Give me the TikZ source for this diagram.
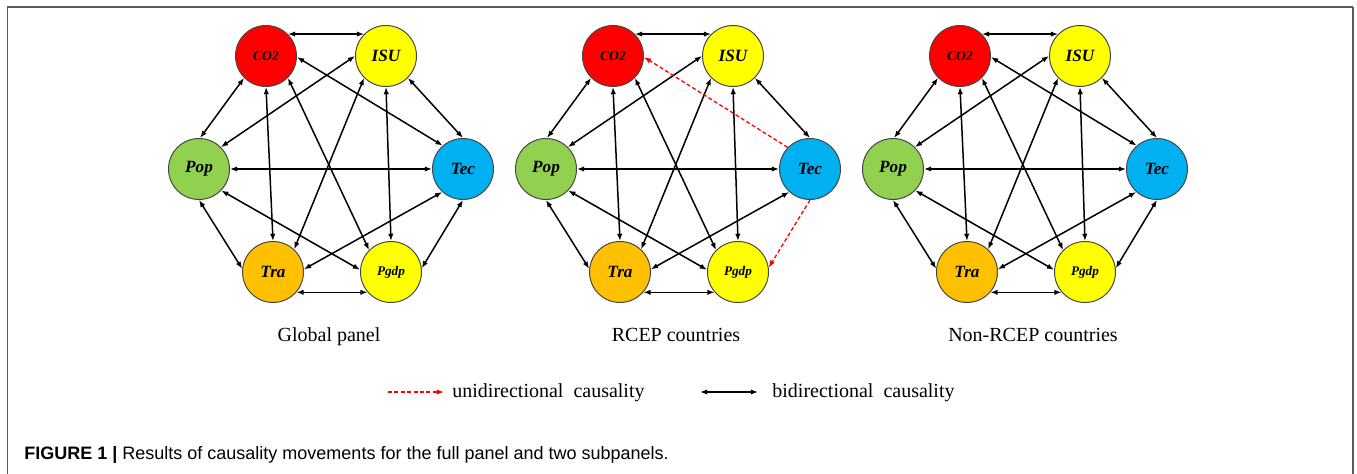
\documentclass[tikz,border=0pt]{standalone}
\usepackage{fontspec}
\setmainfont{Liberation Serif}
\newfontfamily\capfont{Liberation Sans}
\usetikzlibrary{arrows.meta}
\definecolor{cred}{RGB}{255,0,0}
\definecolor{cyel}{RGB}{255,255,0}
\definecolor{cgreen}{RGB}{146,208,80}
\definecolor{cblue}{RGB}{0,176,240}
\definecolor{corange}{RGB}{255,192,0}
\definecolor{outl}{RGB}{70,70,70}
\definecolor{framegray}{RGB}{90,90,90}
\begin{document}
\begin{tikzpicture}[x=0.5pt,y=-0.5pt,
  var/.style={circle,draw=outl,line width=0.5pt,minimum size=30.5pt,inner sep=0pt,font=\bfseries\itshape\fontsize{8.6}{9}\selectfont},
  smalltxt/.style={font=\bfseries\itshape\fontsize{6.8}{7}\selectfont},
  bi/.style={{Latex[length=3.6pt,width=2.7pt]}-{Latex[length=3.6pt,width=2.7pt]}, line width=0.75pt, black},
  uni/.style={-{Latex[length=3.6pt,width=2.7pt]}, line width=0.65pt, cred, dash pattern=on 2pt off 1.2pt},
  lab/.style={font=\fontsize{10}{12}\selectfont, anchor=base, inner sep=0pt},
  legtxt/.style={font=\fontsize{10}{12}\selectfont, anchor=base west, inner sep=0pt},
]
\useasboundingbox (0,0) rectangle (1357,474);
% frame
\draw[framegray, line width=0.6pt] (7.5,474) -- (7.5,7) -- (1353,7);
\draw[framegray, line width=1pt] (1353,7) -- (1353,474);

\foreach \p/\d in {a/0,b/347,c/694}{
  \node[var,fill=cred,smalltxt] (CO2\p) at (266+\d,56) {CO2};
  \node[var,fill=cyel] (ISU\p) at (386+\d,56) {ISU};
  \node[var,fill=cgreen] (Pop\p) at (199+\d,169) {Pop};
  \node[var,fill=cblue] (Tec\p) at (463+\d,169) {Tec};
  \node[var,fill=corange] (Tra\p) at (273+\d,272) {Tra};
  \node[var,fill=cyel,font=\bfseries\itshape\fontsize{6.6}{7}\selectfont] (Pgdp\p) at (391+\d,272) {Pgdp};
  \draw[bi] (CO2\p.45) -- (ISU\p.135);
  \draw[bi] (CO2\p.225) -- (Pop\p.88);
  \draw[bi] (CO2\p.-90) -- (Tra\p.90);
  \draw[bi] (CO2\p.-45) -- (Pgdp\p.135);
  \draw[bi] (ISU\p.180) -- (Pop\p.45);
  \draw[bi] (ISU\p.-45) -- (Tec\p.90);
  \draw[bi] (ISU\p.-135) -- (Tra\p.47);
  \draw[bi] (ISU\p.-90) -- (Pgdp\p.90);
  \draw[bi] (Pop\p.0) -- (Tec\p.180);
  \draw[bi] (Pop\p.-90) -- (Tra\p.174);
  \draw[bi] (Pop\p.-44) -- (Pgdp\p.176);
  \draw[bi] (Tec\p.-132) -- (Tra\p.5);
  \draw[bi] (Tra\p.-41) -- (Pgdp\p.-139);
}
\foreach \p in {a,c}{
  \draw[bi] (CO2\p.-2) -- (Tec\p.131);
  \draw[bi] (Tec\p.-90) -- (Pgdp\p.7);
}
\draw[uni] (Tecb.136) -- (CO2b.-2);
\draw[uni] (Tecb.-90) -- (Pgdpb.8);

\node[lab] (g1) at (329,342) {Global panel};
\node[lab] (g2) at (676,342) {RCEP countries};
\node[lab] (g3) at (1033,342) {Non-RCEP countries};

\coordinate (ua) at (388,392);
\coordinate (ub) at (444,392);
\draw[uni] (ua) -- (ub);
\node[legtxt] (ut) at (452,398) {unidirectional\ \ causality};
\coordinate (ba) at (700,392);
\coordinate (bb) at (758,392);
\draw[bi] (ba) -- (bb);
\node[legtxt] (bt) at (772,398) {bidirectional\ \ causality};

\node[anchor=base west, inner sep=0pt, font=\capfont\fontsize{9}{11}\selectfont] (cap) at (24,459.5)
  {\textbf{FIGURE 1 |} Results of causality movements for the full panel and two subpanels.};
\end{tikzpicture}
\end{document}
